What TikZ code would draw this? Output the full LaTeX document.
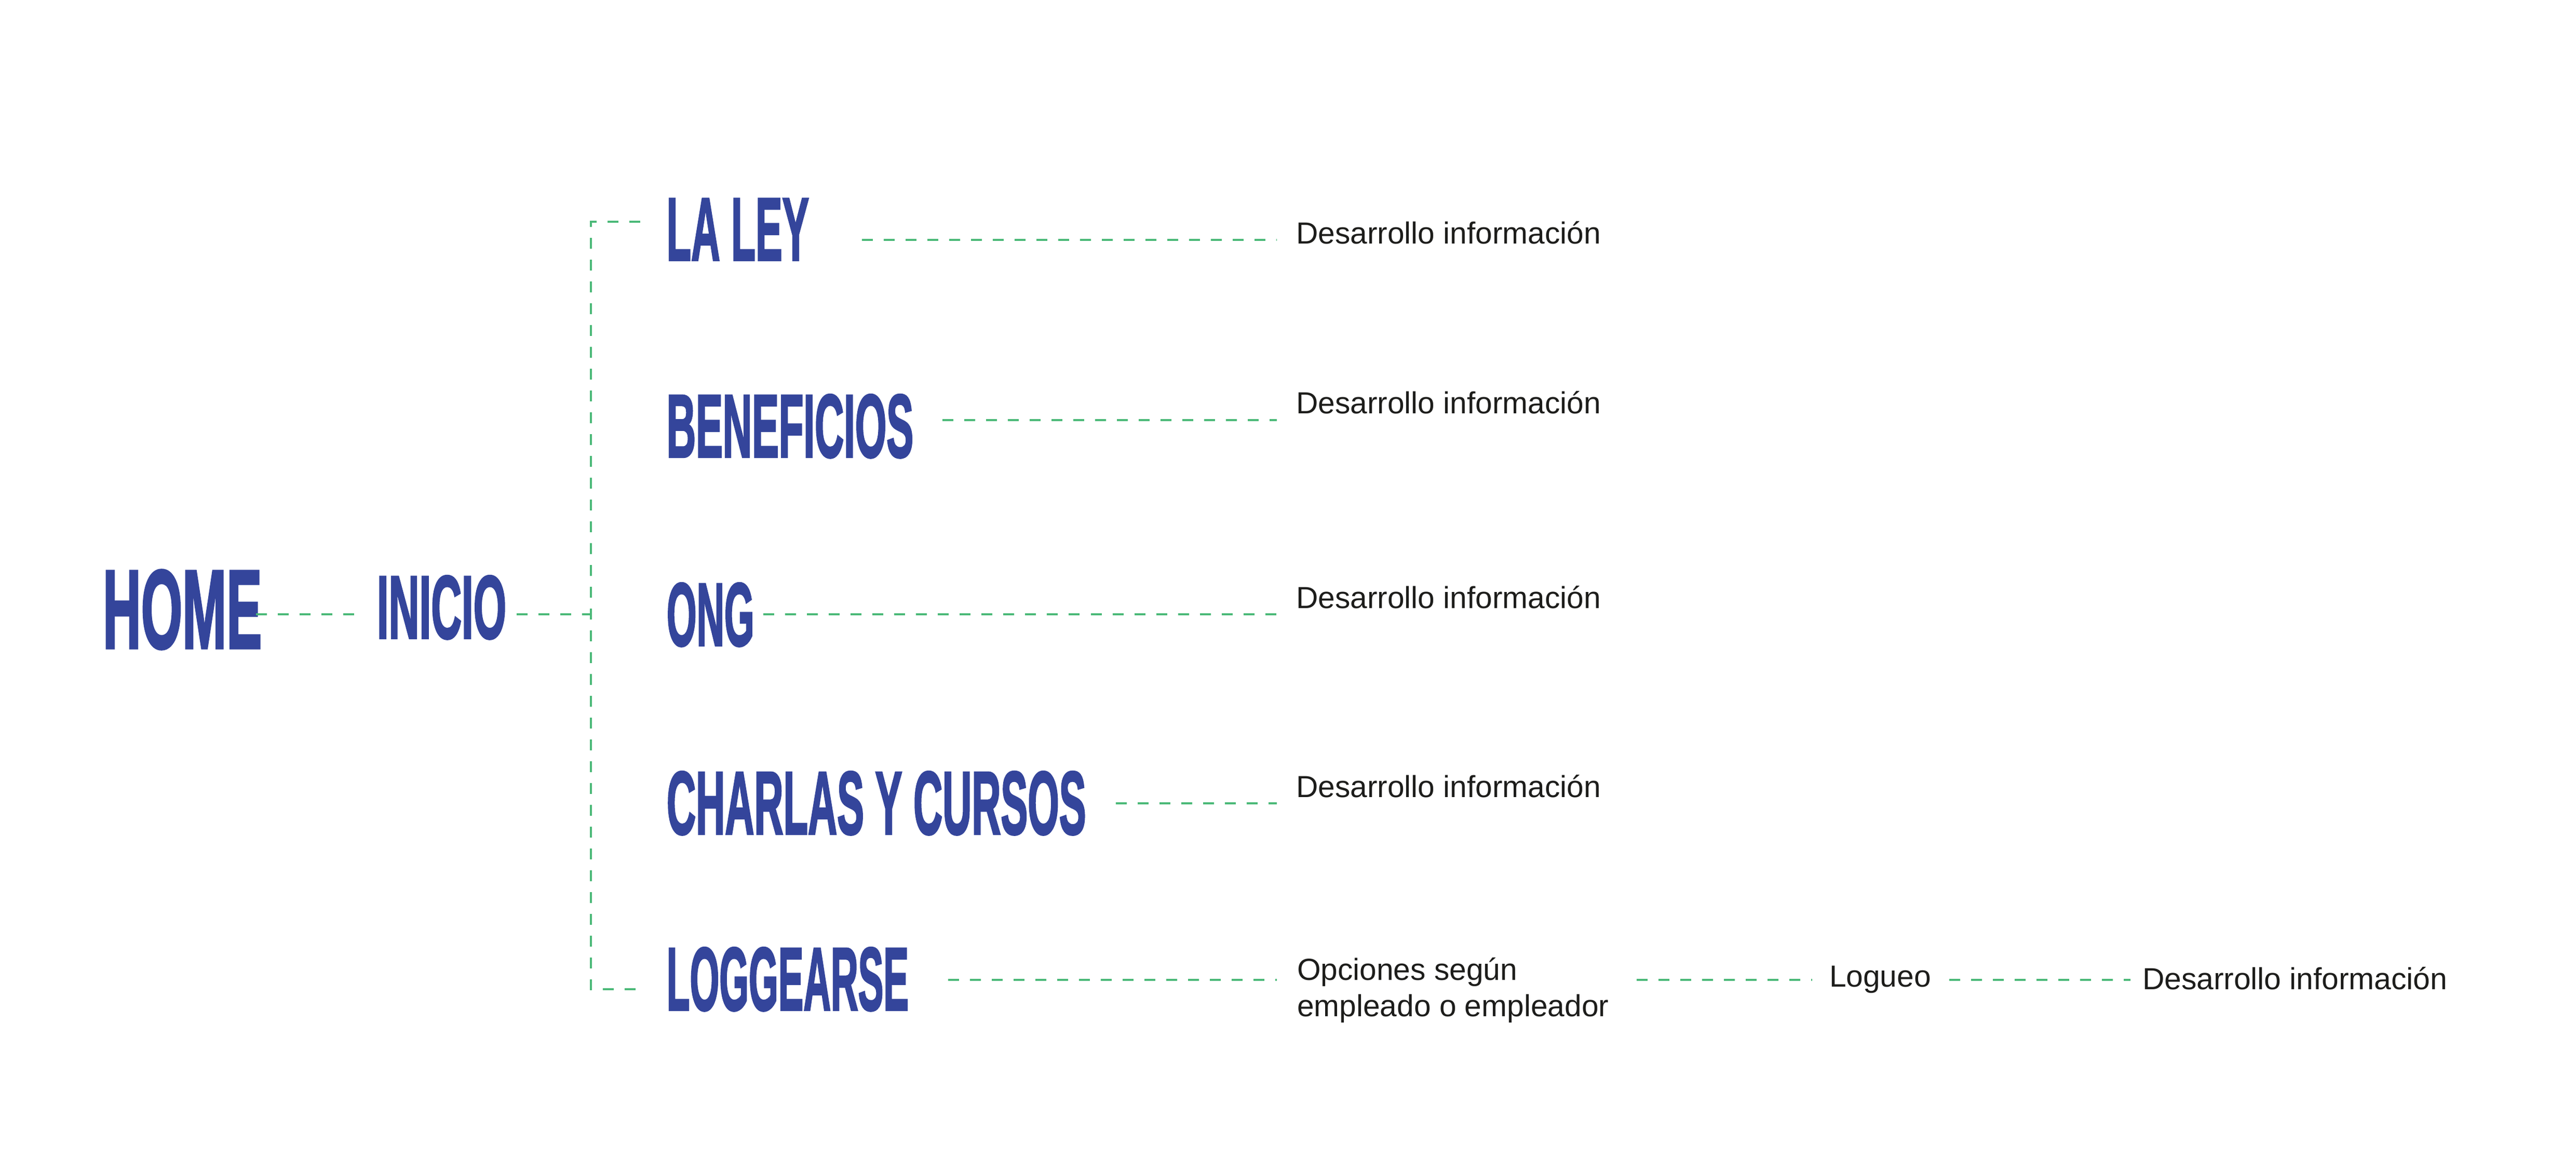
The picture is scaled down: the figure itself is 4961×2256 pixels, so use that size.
\documentclass[tikz,border=0pt]{standalone}
\usepackage{fontspec}
\usepackage{graphicx}
\setmainfont{Liberation Sans}
\newfontfamily\ttlfont{Liberation Sans}[BoldFeatures={FakeBold=2.5}]
\definecolor{ttlblue}{RGB}{52,69,155}
\definecolor{lnkgreen}{RGB}{75,185,120}
\definecolor{txtdark}{RGB}{29,29,27}
\newcommand\ttl[3]{\fontsize{#1}{#1}\ttlfont\bfseries\scalebox{#2}[1]{#3}}
\begin{document}
\begin{tikzpicture}[x=0.2pt,y=-0.2pt,
  ttlnode/.style={anchor=base west,inner sep=0pt,text=ttlblue},
  desc/.style={anchor=base west,inner sep=0pt,text=txtdark,font=\fontsize{11.74}{14}\selectfont},
  conn/.style={draw=lnkgreen,line width=0.8pt,dash pattern=on 4.2pt off 4.2pt}]
\useasboundingbox[fill=white] (0,0) rectangle (4961,2256);

% titles
\node[ttlnode] (home) at (197,1248) {\ttl{43}{0.475}{HOME}};
\node[ttlnode] (inicio) at (725,1229) {\ttl{34.4}{0.474}{INICIO}};
\node[ttlnode] (laley) at (1283,501) {\ttl{34.4}{0.448}{LA LEY}};
\node[ttlnode] (benef) at (1283,880) {\ttl{34.4}{0.452}{BENEFICIOS}};
\node[ttlnode] (ong) at (1283,1243) {\ttl{34.4}{0.43}{ONG}};
\node[ttlnode] (charlas) at (1283,1606) {\ttl{34.4}{0.452}{CHARLAS Y CURSOS}};
\node[ttlnode] (logg) at (1283,1945) {\ttl{34.4}{0.424}{LOGGEARSE}};

% descriptions
\node[desc] (d1) at (2495,469) {Desarrollo información};
\node[desc] (d2) at (2495,796) {Desarrollo información};
\node[desc] (d3) at (2495,1171) {Desarrollo información};
\node[desc] (d4) at (2495,1535) {Desarrollo información};
\node[desc,align=left] (d5) at (2497,1957) {Opciones según\\empleado o empleador};
\node[desc] (logueo) at (3522,1900) {Logueo};
\node[desc] (d6) at (4125,1905) {Desarrollo información};

% trunk
\coordinate (ttop) at (1138,427);
\coordinate (tmid) at (1138,1183);
\coordinate (tbot) at (1138,1905);

% connectors
\draw[conn,shorten <=-2.4pt,shorten >=4.8pt] (home.east |- tmid) -- (inicio.west |- tmid);
\draw[conn,shorten <=3.8pt] (inicio.east |- tmid) -- (tmid);
\draw[conn,shorten <=10pt,shorten >=9.8pt] (laley.west |- ttop) -- (ttop) -- (tbot) -- (logg.west |- tbot);
\draw[conn,shorten <=20.2pt,shorten >=7.2pt] (laley.east |- 0,462) -- (d1.west |- 0,462);
\draw[conn,shorten <=11pt,shorten >=7.2pt] (benef.east |- 0,809) -- (d2.west |- 0,809);
\draw[conn,shorten <=3.4pt,shorten >=7.2pt] (ong.east |- 0,1183) -- (d3.west |- 0,1183);
\draw[conn,shorten <=11.2pt,shorten >=7.2pt] (charlas.east |- 0,1547) -- (d4.west |- 0,1547);
\draw[conn,shorten <=15pt,shorten >=7.6pt] (logg.east |- 0,1887) -- (d5.west |- 0,1887);
\draw[conn,shorten <=10.6pt,shorten >=6.4pt] (d5.east |- 0,1887) -- (logueo.west |- 0,1887);
\draw[conn,shorten <=6.8pt,shorten >=4.5pt] (logueo.east |- 0,1887) -- (d6.west |- 0,1887);
\end{tikzpicture}
\end{document}
